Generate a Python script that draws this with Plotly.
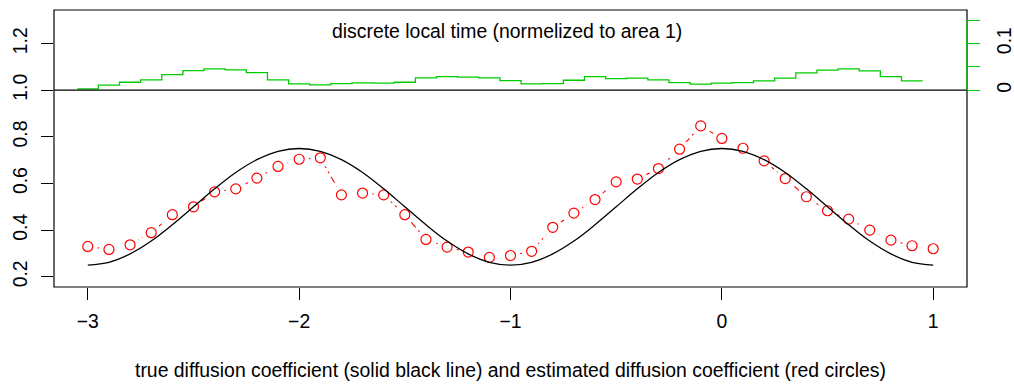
import plotly.graph_objects as go

# ---------------- data ----------------
x_grid = [-3.0, -2.9, -2.8, -2.7, -2.6, -2.5, -2.4, -2.3, -2.2, -2.1,
          -2.0, -1.9, -1.8, -1.7, -1.6, -1.5, -1.4, -1.3, -1.2, -1.1,
          -1.0, -0.9, -0.8, -0.7, -0.6, -0.5, -0.4, -0.3, -0.2, -0.1,
          0.0, 0.1, 0.2, 0.3, 0.4, 0.5, 0.6, 0.7, 0.8, 0.9, 1.0]

# true diffusion coefficient (solid black line)
true_coef = [0.250, 0.262, 0.298, 0.353, 0.423, 0.500, 0.577, 0.647, 0.702, 0.738,
             0.750, 0.738, 0.702, 0.647, 0.577, 0.500, 0.423, 0.353, 0.298, 0.262,
             0.250, 0.262, 0.298, 0.353, 0.423, 0.500, 0.577, 0.647, 0.702, 0.738,
             0.750, 0.738, 0.702, 0.647, 0.577, 0.500, 0.423, 0.353, 0.298, 0.262,
             0.250]

# estimated diffusion coefficient (red circles)
est_coef = [0.330, 0.317, 0.337, 0.389, 0.466, 0.500, 0.564, 0.577, 0.623, 0.673,
            0.704, 0.710, 0.551, 0.559, 0.551, 0.466, 0.360, 0.327, 0.306, 0.283,
            0.291, 0.309, 0.412, 0.473, 0.531, 0.607, 0.619, 0.664, 0.747, 0.847,
            0.793, 0.751, 0.697, 0.621, 0.543, 0.483, 0.447, 0.400, 0.357, 0.333,
            0.320]

# discrete local time histogram (bin centres and heights)
bin_centers = [-3.0, -2.9, -2.8, -2.7, -2.6, -2.5, -2.4, -2.3, -2.2, -2.1,
               -2.0, -1.9, -1.8, -1.7, -1.6, -1.5, -1.4, -1.3, -1.2, -1.1,
               -1.0, -0.9, -0.8, -0.7, -0.6, -0.5, -0.4, -0.3, -0.2, -0.1,
               0.0, 0.1, 0.2, 0.3, 0.4, 0.5, 0.6, 0.7, 0.8, 0.9]
local_time = [0.0028, 0.0107, 0.0171, 0.0221, 0.0336, 0.0421, 0.0457, 0.0436, 0.0378, 0.0221,
              0.0136, 0.0114, 0.0143, 0.0157, 0.0150, 0.0171, 0.0264, 0.0293, 0.0279, 0.0264,
              0.0207, 0.0136, 0.0143, 0.0214, 0.0293, 0.0250, 0.0257, 0.0221, 0.0164, 0.0129,
              0.0150, 0.0164, 0.0200, 0.0257, 0.0371, 0.0429, 0.0457, 0.0414, 0.0293, 0.0200]

x_ticks = [-3, -2, -1, 0, 1]
y_ticks = [0.2, 0.4, 0.6, 0.8, 1.0, 1.2]
y2_ticks = [0, 0.05, 0.1, 0.15]
y2_ticktext = ["0", "", "0.1", ""]

top_label = "discrete local time (normelized to area 1)"
x_label = ("true diffusion coefficient (solid black line) and "
           "estimated diffusion coefficient (red circles)")

# ---------------- figure ----------------
FONT = "Liberation Sans, Arial, Helvetica, sans-serif"
FS = 19.4
GREEN = "#00CD00"
RED = "#FF0000"

half = (bin_centers[1] - bin_centers[0]) / 2
edges = [c - half for c in bin_centers] + [bin_centers[-1] + half]
step_y = local_time + [local_time[-1]]

yr = [0.156, 1.344]
y2r = [(yr[0] - 1.0) / 2.0, (yr[1] - 1.0) / 2.0]

fig = go.Figure()

# green step histogram (right axis)
fig.add_trace(go.Scatter(
    x=edges, y=step_y, yaxis="y2", mode="lines", line_shape="hv",
    line=dict(color=GREEN, width=1.3), showlegend=False, hoverinfo="skip"))

# red dot-dash connecting line
fig.add_trace(go.Scatter(
    x=x_grid, y=est_coef, mode="lines",
    line=dict(color=RED, width=1.1, dash="2px,4px,7px,4px"),
    showlegend=False, hoverinfo="skip"))

# white halo around each point (R type="b" leaves gaps around points)
fig.add_trace(go.Scatter(
    x=x_grid, y=est_coef, mode="markers",
    marker=dict(symbol="circle", size=20, color="white", line=dict(width=0)),
    showlegend=False, hoverinfo="skip"))

# red open circles
fig.add_trace(go.Scatter(
    x=x_grid, y=est_coef, mode="markers",
    marker=dict(symbol="circle-open", size=10, color=RED,
                line=dict(color=RED, width=1.2)),
    showlegend=False))

# true coefficient (black)
fig.add_trace(go.Scatter(
    x=x_grid, y=true_coef, mode="lines", line_shape="spline",
    line=dict(color="black", width=1.3), showlegend=False))

fig.update_layout(
    width=1014, height=385,
    margin=dict(l=54, r=47, t=10, b=98, autoexpand=False),
    paper_bgcolor="white", plot_bgcolor="white",
    font=dict(family=FONT, size=FS, color="black"),
    xaxis=dict(range=[-3.16, 1.16], tickvals=x_ticks, ticks="outside",
               ticklen=12, tickwidth=1, tickcolor="black",
               showgrid=False, zeroline=False, showline=False,
               tickfont=dict(size=FS), ticklabelstandoff=5),
    yaxis=dict(range=yr, tickvals=y_ticks, tickformat=".1f", ticks="outside",
               ticklen=12, tickwidth=1, tickcolor="black", tickangle=-90,
               showgrid=False, zeroline=False, showline=False,
               tickfont=dict(size=FS), ticklabelstandoff=6),
    yaxis2=dict(range=y2r, overlaying="y", side="right", tickvals=y2_ticks,
                ticktext=y2_ticktext, ticks="outside", ticklen=12, tickwidth=1,
                tickcolor=GREEN, tickangle=-90, showgrid=False, zeroline=False,
                showline=False, tickfont=dict(size=FS), ticklabelstandoff=8),
    shapes=[
        dict(type="rect", xref="paper", yref="paper", x0=0, x1=1, y0=0, y1=1,
             line=dict(color="black", width=1.2), layer="above"),
        dict(type="line", xref="paper", yref="y", x0=0, x1=1, y0=1.0, y1=1.0,
             line=dict(color="black", width=1.2), layer="above"),
        dict(type="line", xref="paper", yref="y2", x0=1, x1=1,
             y0=y2_ticks[0], y1=y2_ticks[-1],
             line=dict(color=GREEN, width=1.2), layer="above"),
    ],
    annotations=[
        dict(text=top_label, xref="paper", yref="paper", x=0.4967, y=0.925,
             xanchor="center", yanchor="middle", showarrow=False,
             font=dict(size=FS)),
        dict(text=x_label, xref="paper", yref="paper", x=0.5, y=-0.30,
             xanchor="center", yanchor="middle", showarrow=False,
             font=dict(size=FS)),
    ],
)

fig.write_html("out.html")
